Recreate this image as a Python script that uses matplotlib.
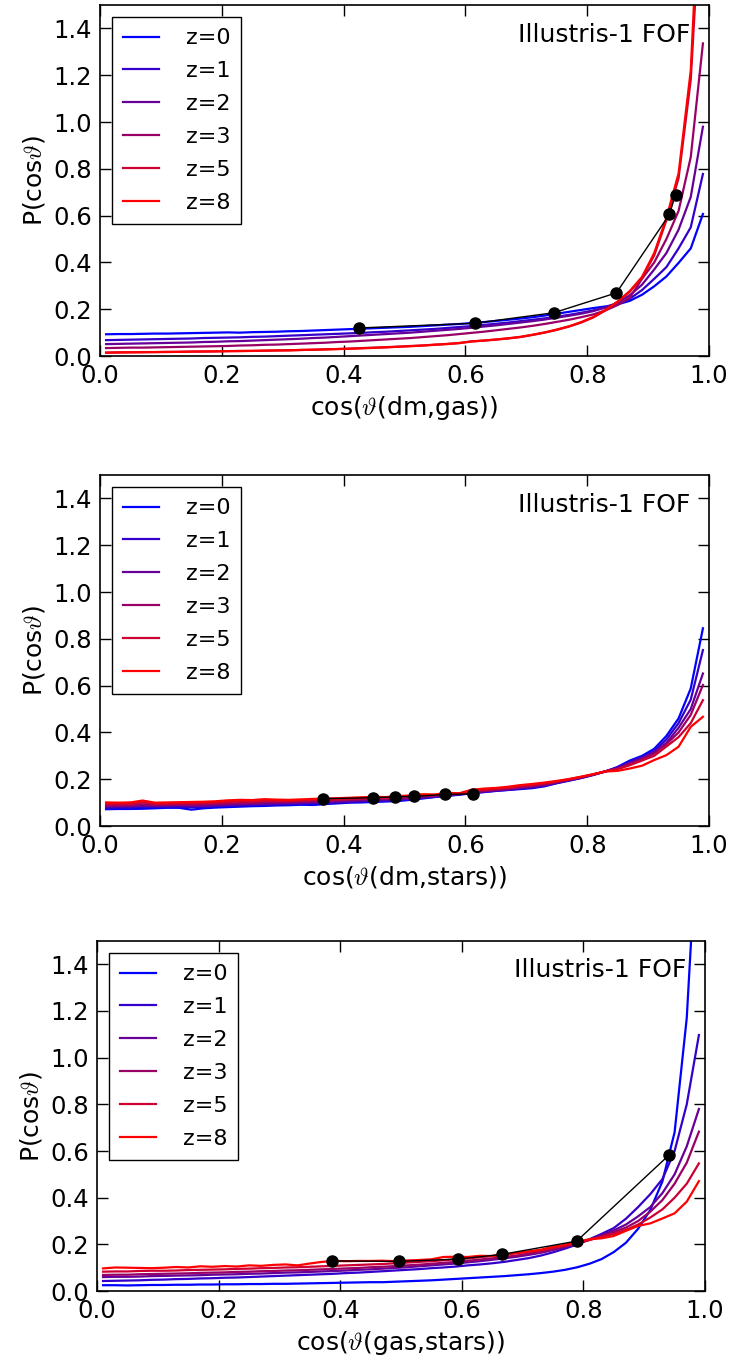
import numpy as np
import matplotlib.pyplot as plt

plt.rcParams.update({
    'font.family': 'DejaVu Sans',
    'mathtext.fontset': 'cm',
    'xtick.direction': 'in', 'ytick.direction': 'in',
    'xtick.top': True, 'ytick.right': True,
    'xtick.major.size': 8, 'ytick.major.size': 8,
    'xtick.major.width': 1.0, 'ytick.major.width': 1.0,
    'xtick.major.pad': 6, 'ytick.major.pad': 6,
    'axes.linewidth': 1.2,
})

# bin centres of cos(theta)
cos_bins = np.linspace(0.01, 0.99, 50)
redshifts = ['z=0', 'z=1', 'z=2', 'z=3', 'z=5', 'z=8']
colors = [(0, 0, 1), (0.2, 0, 0.8), (0.4, 0, 0.6), (0.6, 0, 0.4), (0.8, 0, 0.2), (1, 0, 0)]

# ---- dm vs gas
dm_gas_z0 = [0.093, 0.094, 0.094, 0.095, 0.096, 0.096, 0.097, 0.098, 0.099, 0.100,
             0.101, 0.100, 0.102, 0.103, 0.104, 0.106, 0.107, 0.109, 0.111, 0.113,
             0.115, 0.117, 0.119, 0.121, 0.123, 0.125, 0.128, 0.131, 0.134, 0.137,
             0.141, 0.145, 0.150, 0.155, 0.160, 0.166, 0.173, 0.181, 0.189, 0.197,
             0.205, 0.212, 0.221, 0.236, 0.262, 0.298, 0.340, 0.398, 0.460, 0.607]
dm_gas_z1 = [0.068, 0.069, 0.070, 0.071, 0.072, 0.073, 0.074, 0.075, 0.077, 0.078,
             0.079, 0.080, 0.082, 0.083, 0.085, 0.087, 0.089, 0.091, 0.093, 0.095,
             0.097, 0.099, 0.102, 0.104, 0.107, 0.110, 0.113, 0.116, 0.120, 0.124,
             0.128, 0.133, 0.138, 0.143, 0.149, 0.155, 0.161, 0.168, 0.176, 0.185,
             0.195, 0.207, 0.222, 0.245, 0.282, 0.330, 0.380, 0.460, 0.550, 0.778]
dm_gas_z2 = [0.051, 0.052, 0.053, 0.054, 0.055, 0.056, 0.057, 0.058, 0.060, 0.061,
             0.063, 0.064, 0.066, 0.068, 0.070, 0.072, 0.074, 0.077, 0.079, 0.082,
             0.085, 0.088, 0.091, 0.094, 0.097, 0.100, 0.104, 0.108, 0.112, 0.116,
             0.121, 0.126, 0.131, 0.137, 0.143, 0.149, 0.156, 0.164, 0.172, 0.181,
             0.192, 0.208, 0.228, 0.260, 0.305, 0.370, 0.440, 0.540, 0.680, 0.980]
dm_gas_z3 = [0.034, 0.035, 0.036, 0.036, 0.037, 0.038, 0.039, 0.040, 0.041, 0.042,
             0.043, 0.045, 0.046, 0.048, 0.049, 0.051, 0.053, 0.055, 0.057, 0.060,
             0.062, 0.065, 0.068, 0.071, 0.074, 0.077, 0.081, 0.085, 0.089, 0.094,
             0.099, 0.104, 0.110, 0.116, 0.122, 0.129, 0.137, 0.146, 0.155, 0.166,
             0.178, 0.195, 0.218, 0.250, 0.330, 0.400, 0.500, 0.620, 0.850, 1.336]
dm_gas_z5 = [0.015, 0.016, 0.016, 0.017, 0.017, 0.018, 0.018, 0.019, 0.019, 0.020,
             0.021, 0.022, 0.022, 0.023, 0.024, 0.025, 0.026, 0.027, 0.029, 0.030,
             0.032, 0.034, 0.036, 0.038, 0.040, 0.043, 0.045, 0.048, 0.052, 0.055,
             0.063, 0.066, 0.070, 0.075, 0.081, 0.090, 0.100, 0.112, 0.126, 0.143,
             0.165, 0.195, 0.232, 0.275, 0.335, 0.430, 0.580, 0.760, 1.180, 2.100]
dm_gas_z8 = [0.014, 0.015, 0.016, 0.016, 0.017, 0.017, 0.018, 0.019, 0.020, 0.020,
             0.021, 0.021, 0.022, 0.023, 0.024, 0.024, 0.026, 0.027, 0.028, 0.030,
             0.031, 0.033, 0.035, 0.037, 0.040, 0.042, 0.045, 0.049, 0.051, 0.056,
             0.062, 0.066, 0.071, 0.076, 0.082, 0.091, 0.101, 0.113, 0.127, 0.145,
             0.167, 0.197, 0.233, 0.278, 0.338, 0.440, 0.590, 0.780, 1.220, 2.300]
dm_gas_med_x = [0.425, 0.615, 0.745, 0.848, 0.935, 0.945]
dm_gas_med_y = [0.120, 0.140, 0.185, 0.270, 0.605, 0.690]

# ---- dm vs stars
dm_stars_z0 = [0.072, 0.073, 0.073, 0.074, 0.076, 0.078, 0.078, 0.070, 0.076, 0.079,
               0.081, 0.083, 0.085, 0.086, 0.088, 0.089, 0.091, 0.090, 0.094, 0.097,
               0.100, 0.101, 0.103, 0.105, 0.107, 0.112, 0.118, 0.124, 0.129, 0.134,
               0.140, 0.145, 0.150, 0.154, 0.158, 0.162, 0.170, 0.183, 0.194, 0.205,
               0.218, 0.233, 0.253, 0.280, 0.300, 0.330, 0.385, 0.460, 0.588, 0.845]
dm_stars_z1 = [0.078, 0.079, 0.079, 0.081, 0.082, 0.083, 0.083, 0.080, 0.082, 0.085,
               0.087, 0.088, 0.090, 0.091, 0.092, 0.094, 0.095, 0.097, 0.099, 0.101,
               0.103, 0.105, 0.107, 0.109, 0.111, 0.115, 0.120, 0.125, 0.130, 0.135,
               0.141, 0.146, 0.151, 0.155, 0.160, 0.165, 0.172, 0.184, 0.195, 0.206,
               0.220, 0.234, 0.250, 0.274, 0.295, 0.320, 0.370, 0.440, 0.540, 0.752]
dm_stars_z2 = [0.083, 0.084, 0.084, 0.087, 0.086, 0.087, 0.088, 0.086, 0.087, 0.089,
               0.091, 0.093, 0.094, 0.096, 0.097, 0.098, 0.100, 0.101, 0.103, 0.105,
               0.107, 0.109, 0.111, 0.113, 0.115, 0.119, 0.124, 0.128, 0.133, 0.137,
               0.143, 0.148, 0.153, 0.157, 0.163, 0.168, 0.175, 0.186, 0.196, 0.207,
               0.220, 0.234, 0.249, 0.270, 0.290, 0.315, 0.355, 0.420, 0.500, 0.652]
dm_stars_z3 = [0.088, 0.088, 0.089, 0.093, 0.090, 0.091, 0.092, 0.091, 0.092, 0.094,
               0.096, 0.098, 0.099, 0.101, 0.102, 0.103, 0.105, 0.106, 0.108, 0.110,
               0.112, 0.114, 0.116, 0.117, 0.120, 0.123, 0.128, 0.130, 0.136, 0.138,
               0.145, 0.150, 0.155, 0.159, 0.166, 0.171, 0.178, 0.188, 0.198, 0.208,
               0.220, 0.234, 0.246, 0.265, 0.285, 0.310, 0.350, 0.400, 0.475, 0.603]
dm_stars_z5 = [0.094, 0.094, 0.095, 0.101, 0.095, 0.096, 0.097, 0.097, 0.098, 0.100,
               0.103, 0.105, 0.105, 0.108, 0.107, 0.107, 0.109, 0.111, 0.113, 0.114,
               0.116, 0.118, 0.120, 0.120, 0.124, 0.127, 0.132, 0.132, 0.139, 0.139,
               0.150, 0.155, 0.159, 0.164, 0.171, 0.176, 0.182, 0.190, 0.200, 0.210,
               0.221, 0.234, 0.243, 0.260, 0.280, 0.300, 0.340, 0.380, 0.440, 0.538]
dm_stars_z8 = [0.101, 0.100, 0.101, 0.109, 0.100, 0.101, 0.102, 0.103, 0.104, 0.106,
               0.110, 0.112, 0.111, 0.115, 0.113, 0.112, 0.114, 0.116, 0.118, 0.119,
               0.121, 0.123, 0.125, 0.124, 0.128, 0.131, 0.136, 0.135, 0.142, 0.140,
               0.155, 0.160, 0.163, 0.168, 0.175, 0.180, 0.186, 0.193, 0.201, 0.211,
               0.222, 0.233, 0.236, 0.246, 0.258, 0.282, 0.303, 0.339, 0.424, 0.467]
dm_stars_med_x = [0.366, 0.448, 0.485, 0.515, 0.567, 0.613]
dm_stars_med_y = [0.117, 0.121, 0.125, 0.127, 0.135, 0.138]

# ---- gas vs stars
gas_stars_z0 = [0.025, 0.025, 0.024, 0.025, 0.026, 0.026, 0.027, 0.027, 0.028, 0.028,
                0.029, 0.029, 0.030, 0.030, 0.031, 0.031, 0.032, 0.033, 0.034, 0.035,
                0.036, 0.037, 0.038, 0.038, 0.040, 0.042, 0.044, 0.046, 0.049, 0.052,
                0.055, 0.058, 0.061, 0.064, 0.068, 0.072, 0.077, 0.083, 0.091, 0.102,
                0.117, 0.137, 0.167, 0.207, 0.267, 0.347, 0.470, 0.680, 1.170, 2.100]
gas_stars_z1 = [0.043, 0.044, 0.045, 0.046, 0.048, 0.049, 0.051, 0.052, 0.054, 0.055,
                0.057, 0.058, 0.060, 0.062, 0.064, 0.066, 0.068, 0.070, 0.072, 0.074,
                0.077, 0.079, 0.082, 0.085, 0.088, 0.091, 0.094, 0.098, 0.101, 0.105,
                0.110, 0.114, 0.119, 0.125, 0.133, 0.141, 0.152, 0.166, 0.182, 0.200,
                0.222, 0.245, 0.270, 0.310, 0.360, 0.415, 0.480, 0.600, 0.800, 1.097]
gas_stars_z2 = [0.060, 0.061, 0.061, 0.062, 0.064, 0.065, 0.066, 0.067, 0.068, 0.070,
                0.071, 0.072, 0.074, 0.075, 0.077, 0.079, 0.080, 0.082, 0.084, 0.086,
                0.088, 0.091, 0.093, 0.096, 0.099, 0.102, 0.106, 0.110, 0.114, 0.118,
                0.123, 0.128, 0.134, 0.140, 0.147, 0.155, 0.164, 0.176, 0.189, 0.203,
                0.220, 0.240, 0.260, 0.285, 0.320, 0.360, 0.420, 0.500, 0.620, 0.780]
gas_stars_z3 = [0.069, 0.070, 0.070, 0.072, 0.073, 0.074, 0.075, 0.076, 0.078, 0.079,
                0.080, 0.082, 0.083, 0.085, 0.086, 0.088, 0.089, 0.091, 0.093, 0.095,
                0.097, 0.099, 0.102, 0.104, 0.107, 0.110, 0.113, 0.117, 0.121, 0.125,
                0.130, 0.135, 0.140, 0.146, 0.152, 0.160, 0.168, 0.179, 0.191, 0.204,
                0.219, 0.236, 0.252, 0.272, 0.300, 0.340, 0.390, 0.460, 0.550, 0.683]
gas_stars_z5 = [0.083, 0.084, 0.084, 0.086, 0.087, 0.087, 0.088, 0.090, 0.091, 0.092,
                0.093, 0.095, 0.096, 0.098, 0.099, 0.101, 0.102, 0.104, 0.106, 0.108,
                0.110, 0.112, 0.114, 0.116, 0.119, 0.122, 0.125, 0.128, 0.132, 0.136,
                0.140, 0.145, 0.150, 0.156, 0.162, 0.168, 0.175, 0.185, 0.195, 0.207,
                0.219, 0.232, 0.245, 0.262, 0.285, 0.315, 0.350, 0.400, 0.460, 0.547]
gas_stars_z8 = [0.097, 0.101, 0.100, 0.099, 0.098, 0.100, 0.103, 0.101, 0.106, 0.104,
                0.107, 0.105, 0.110, 0.108, 0.112, 0.114, 0.110, 0.118, 0.125, 0.129,
                0.128, 0.129, 0.129, 0.130, 0.128, 0.131, 0.133, 0.136, 0.146, 0.147,
                0.146, 0.151, 0.150, 0.157, 0.163, 0.170, 0.177, 0.190, 0.198, 0.212,
                0.222, 0.226, 0.236, 0.258, 0.279, 0.290, 0.311, 0.333, 0.383, 0.471]
gas_stars_med_x = [0.387, 0.496, 0.594, 0.666, 0.789, 0.941]
gas_stars_med_y = [0.129, 0.127, 0.137, 0.157, 0.214, 0.583]

panels = [
    ('dm,gas', [dm_gas_z0, dm_gas_z1, dm_gas_z2, dm_gas_z3, dm_gas_z5, dm_gas_z8],
     dm_gas_med_x, dm_gas_med_y, [0.1366, 0.7382, 0.832, 0.2581]),
    ('dm,stars', [dm_stars_z0, dm_stars_z1, dm_stars_z2, dm_stars_z3, dm_stars_z5, dm_stars_z8],
     dm_stars_med_x, dm_stars_med_y, [0.1366, 0.3926, 0.832, 0.2581]),
    ('gas,stars', [gas_stars_z0, gas_stars_z1, gas_stars_z2, gas_stars_z3, gas_stars_z5, gas_stars_z8],
     gas_stars_med_x, gas_stars_med_y, [0.1325, 0.0507, 0.8306, 0.2574]),
]

fig = plt.figure(figsize=(7.32, 13.6), dpi=100)
for pair, curves, mx, my, rect in panels:
    ax = fig.add_axes(rect)
    for ys, lab, c in zip(curves, redshifts, colors):
        ax.plot(cos_bins, ys, color=c, lw=1.6, label=lab)
    ax.plot(mx, my, color='k', lw=1.0, marker='o', ms=8, zorder=5)
    ax.set_xlim(0, 1)
    ax.set_ylim(0, 1.5)
    ax.set_xticks(np.arange(0, 1.01, 0.2))
    ax.set_yticks(np.arange(0, 1.41, 0.2))
    ax.tick_params(labelsize=17.5)
    ax.set_xlabel(r'cos($\vartheta$(' + pair + '))', fontsize=18, labelpad=4)
    ax.set_ylabel(r'P(cos$\vartheta$)', fontsize=18, labelpad=4)
    ax.text(0.97, 0.95, 'Illustris-1 FOF', transform=ax.transAxes,
            ha='right', va='top', fontsize=18)
    leg = ax.legend(loc='upper left', fontsize=16, fancybox=False, framealpha=1,
                    edgecolor='k', handlelength=1.6, handletextpad=1.2,
                    labelspacing=0.58, borderpad=0.5, borderaxespad=0.55)
    leg.get_frame().set_linewidth(1.0)

fig.savefig('out.png', dpi=100)
